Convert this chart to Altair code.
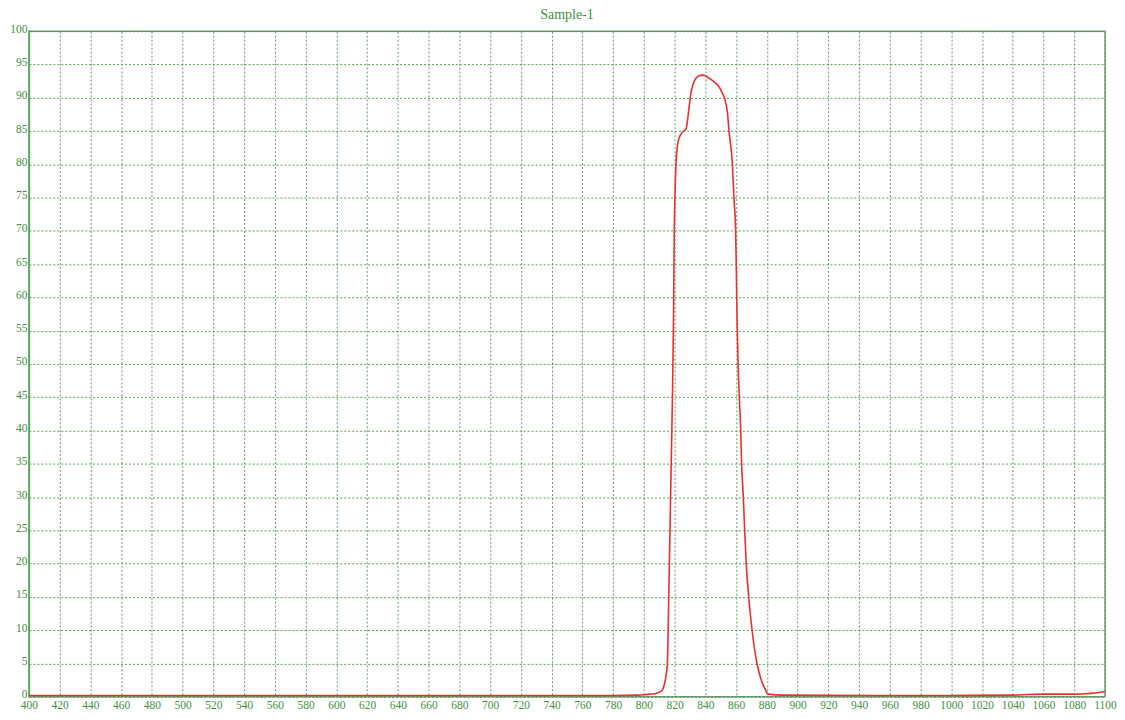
import altair as alt
import pandas as pd

# Wavelength (nm) and transmittance (%)
wavelength = [400, 500, 600, 700, 780, 795, 800, 804, 808, 810, 812, 813.5, 814.5,
              815.3, 815.8, 816.2, 816.6, 817.0, 817.4, 817.8, 818.2, 818.6, 818.9,
              819.2, 819.4, 819.6, 819.8, 820.2, 820.9, 822.0, 823.0, 824.1, 825.8,
              827.4, 828.5, 829.5, 830.6, 832.0, 833.8, 836.0, 838.1, 840.0, 842.0,
              844.0, 845.7, 848.0, 851.1, 853.0, 854.4, 855.4, 857.6, 858.6, 859.7,
              860.1, 860.4, 860.8, 861.3, 862.1, 863.0, 863.6, 864.7, 865.6, 866.6,
              868.2, 870.4, 873.6, 876.0, 878.2, 881.0, 890, 950, 1000, 1040, 1050,
              1060, 1080, 1090, 1095, 1100]
transmittance = [0.2, 0.2, 0.2, 0.2, 0.2, 0.25, 0.3, 0.4, 0.5, 0.7, 1.0, 2.0, 3.3,
                 5.0, 10.0, 15.0, 20.0, 25.0, 30.0, 35.0, 40.0, 45.0, 50.0,
                 55.0, 60.0, 65.0, 70.0, 75.0, 80.0, 83.0, 84.0, 84.5, 85.0,
                 85.3, 86.8, 88.7, 90.7, 92.0, 92.9, 93.3, 93.4, 93.3, 93.0,
                 92.7, 92.4, 91.9, 90.7, 89.5, 87.7, 85.0, 80.0, 75.0, 70.0,
                 65.0, 60.0, 55.0, 50.0, 45.0, 40.0, 35.0, 30.0, 25.0, 20.0,
                 15.0, 10.0, 5.0, 2.8, 1.5, 0.4, 0.25, 0.2, 0.2, 0.25, 0.35,
                 0.4, 0.4, 0.5, 0.6, 0.8]

x_ticks = list(range(400, 1101, 20))
y_ticks = list(range(0, 101, 5))
title_text = "Sample-1"

df = pd.DataFrame({"wl": wavelength, "t": transmittance})

green = "#3f8f3f"
grid_green = "#3f8f3f"

line = alt.Chart(df).mark_line(color="#e8302c", strokeWidth=1.6, interpolate="monotone").encode(
    x=alt.X("wl:Q", scale=alt.Scale(domain=[400, 1100], nice=False, zero=False),
            axis=alt.Axis(values=x_ticks, title=None, grid=True, ticks=False,
                          domain=False, labelFlush=False, labelPadding=3,
                          labelOverlap=False, format="d")),
    y=alt.Y("t:Q", scale=alt.Scale(domain=[0, 100], nice=False),
            axis=alt.Axis(values=y_ticks, title=None, grid=True, ticks=False,
                          domain=True, domainColor="#5aaa5a", domainWidth=1.5,
                          labelPadding=2, labelOffset=-2, labelOverlap=False,
                          format="d")),
)

title = alt.Chart(pd.DataFrame({"label": [title_text]})).mark_text(
    font="Liberation Serif", fontSize=14, color=green, align="center", baseline="middle"
).encode(
    text="label:N",
    x=alt.value(540),
    y=alt.value(-16),
)

chart = alt.layer(line, title).properties(
    width=1080,
    height=668,
    autosize=alt.AutoSizeParams(type="none"),
    padding={"left": 21, "top": 22, "right": 12, "bottom": 14},
    background="white",
).configure_axis(
    labelFont="Liberation Serif",
    labelFontSize=11.5,
    labelColor=green,
    gridColor=grid_green,
    gridDash=[2, 2],
    gridWidth=1,
    gridOpacity=0.85,
).configure_view(
    stroke="#6f9a6f",
    strokeWidth=1.5,
)

chart.save("out.html", embed_options={"renderer": "svg", "actions": False})
